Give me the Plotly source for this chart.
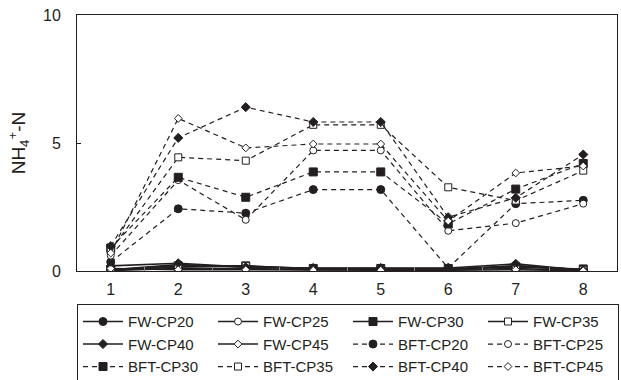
import plotly.graph_objects as go

days = [1, 2, 3, 4, 5, 6, 7, 8]

fw_cp20 = [0.05, 0.25, 0.15, 0.10, 0.10, 0.05, 0.20, 0.05]
fw_cp25 = [0.02, 0.10, 0.10, 0.05, 0.05, 0.05, 0.10, 0.02]
fw_cp30 = [0.05, 0.20, 0.20, 0.10, 0.10, 0.10, 0.15, 0.08]
fw_cp35 = [0.03, 0.15, 0.20, 0.08, 0.08, 0.08, 0.20, 0.05]
fw_cp40 = [0.20, 0.30, 0.15, 0.12, 0.12, 0.12, 0.28, 0.03]
fw_cp45 = [0.10, 0.05, 0.05, 0.03, 0.03, 0.03, 0.05, 0.01]

bft_cp20 = [0.35, 2.43, 2.26, 3.18, 3.18, 0.12, 2.63, 2.76]
bft_cp25 = [0.60, 3.55, 2.00, 4.71, 4.71, 1.57, 1.87, 2.63]
bft_cp30 = [0.90, 3.66, 2.88, 3.87, 3.87, 1.84, 3.20, 4.20]
bft_cp35 = [0.80, 4.44, 4.31, 5.71, 5.71, 3.27, 2.75, 3.92]
bft_cp40 = [0.97, 5.20, 6.40, 5.82, 5.82, 2.10, 2.86, 4.55]
bft_cp45 = [0.70, 5.96, 4.81, 4.96, 4.96, 1.95, 3.83, 4.10]

names = ["FW-CP20", "FW-CP25", "FW-CP30", "FW-CP35", "FW-CP40", "FW-CP45",
         "BFT-CP20", "BFT-CP25", "BFT-CP30", "BFT-CP35", "BFT-CP40", "BFT-CP45"]
series = [fw_cp20, fw_cp25, fw_cp30, fw_cp35, fw_cp40, fw_cp45,
          bft_cp20, bft_cp25, bft_cp30, bft_cp35, bft_cp40, bft_cp45]

INK = "#231f20"
styles = [("circle", True, 8), ("circle", False, 7), ("square", True, 8),
          ("square", False, 7), ("diamond", True, 7), ("diamond", False, 6)]

fig = go.Figure()
for i, (nm, ys) in enumerate(zip(names, series)):
    sym, filled, size = styles[i % 6]
    dashed = i >= 6
    fig.add_trace(go.Scatter(
        x=days, y=ys, name=nm, mode="lines+markers",
        line=dict(color=INK, width=1.2 if dashed else 1.6,
                  dash="5px,4px" if dashed else "solid"),
        marker=dict(symbol=sym, size=size,
                    color=INK if filled else "white",
                    line=dict(color=INK, width=1)),
    ))

fig.update_layout(
    width=621, height=380,
    margin=dict(l=77, r=4, t=15, b=109, autoexpand=False),
    paper_bgcolor="white", plot_bgcolor="white",
    font=dict(family="Liberation Sans, Arial, sans-serif", size=16, color=INK),
    showlegend=True,
    legend=dict(
        orientation="h", x=0, xanchor="left", y=-0.13, yanchor="top",
        entrywidth=80, entrywidthmode="pixels",
        bordercolor=INK, borderwidth=1,
        font=dict(size=15), tracegroupgap=0, itemwidth=40,
    ),
    xaxis=dict(
        range=[0.5, 8.5], tickvals=days, ticktext=[str(d) for d in days],
        ticks="", showgrid=False, zeroline=False,
        showline=True, linecolor=INK, linewidth=1, mirror=True,
        ticklabelstandoff=4,
        minor=dict(tickvals=[1.5, 2.5, 3.5, 4.5, 5.5, 6.5, 7.5],
                   ticks="inside", ticklen=4, tickcolor="#888888", tickwidth=1),
    ),
    yaxis=dict(
        range=[0, 10], tickvals=[0, 5, 10], ticks="inside", ticklen=4,
        tickcolor=INK, showgrid=False, zeroline=False,
        showline=True, linecolor=INK, linewidth=1, mirror=True,
        ticklabelstandoff=12,
        title=dict(text="NH<sub>4</sub><sup>+</sup>-N", font=dict(size=19), standoff=12),
    ),
)

fig.write_html("out.html")
